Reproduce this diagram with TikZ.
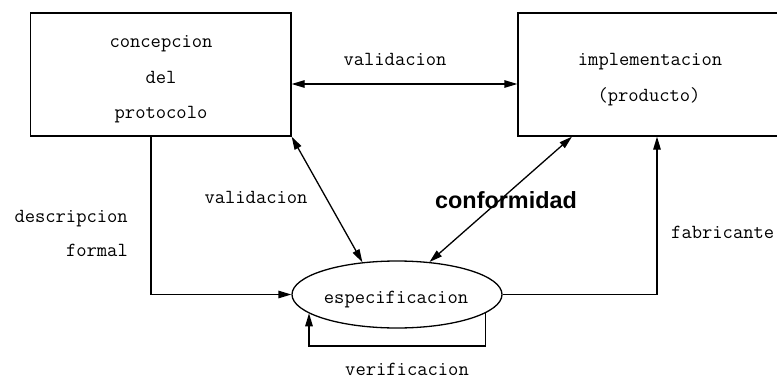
\documentclass[tikz,border=0pt]{standalone}
\usepackage{fontspec}
\newfontfamily\helvfam{Liberation Sans}
\usetikzlibrary{arrows.meta,shapes.geometric}

\tikzset{
  box/.style={draw, line width=1.3pt, rectangle, inner sep=0pt},
  oval/.style={draw, line width=1.3pt, ellipse, inner sep=0pt,
               minimum width=210pt, minimum height=67pt},
  lbl/.style={font=\ttfamily\fontsize{20}{24}\selectfont, anchor=base, inner sep=0pt},
  lblr/.style={lbl, anchor=base east},
  lbll/.style={lbl, anchor=base west},
  big/.style={font=\helvfam\bfseries\fontsize{23.4}{26}\selectfont, anchor=base, inner sep=0pt},
  conn/.style={line width=1.3pt, -{Triangle[length=13pt,width=7.5pt]}},
  bconn/.style={line width=1.3pt, {Triangle[length=13pt,width=7.5pt]}-{Triangle[length=13pt,width=7.5pt]}}
}

\begin{document}
\begin{tikzpicture}[x=1pt,y=-1pt]
  \useasboundingbox (0,0) rectangle (777,380);
  \clip (0,0) rectangle (777,380);

  % process boxes
  \node[box, minimum width=260.5pt, minimum height=123pt] (concep) at (160.75,74.5) {};
  \node[box, minimum width=272pt, minimum height=123pt] (impl) at (654,74.5) {};
  \node[lbl] (t1) at (161,47) {concepcion};
  \node[lbl] (t2) at (161,83) {del};
  \node[lbl] (t3) at (161,118) {protocolo};
  \node[lbl] (t4) at (650,65) {implementacion};
  \node[lbl] (t5) at (649,101) {(producto)};

  % specification ellipse
  \node[oval] (espec) at (397,294.5) {};
  \node[lbl] (t6) at (396,303) {especificacion};

  % helper coordinates for connector routes
  \coordinate (vy) at (0,84);
  \coordinate (dl) at (151,0);
  \coordinate (cx) at (572,0);
  \coordinate (fx) at (657,0);
  \coordinate (lb) at (309,346);

  % validation between concept and implementation
  \draw[bconn] (concep.east |- vy) -- (impl.west |- vy);
  % validation between concept and specification
  \draw[bconn] (concep.south east) -- (espec.137);
  % conformance between specification and implementation
  \draw[bconn] (espec.45) -- (impl.south -| cx);
  % formal description
  \draw[conn] (concep.south -| dl) |- (espec.west);
  % manufacturer
  \draw[conn] (espec.east) -| (impl.south -| fx);
  % verification loop
  \draw[conn] (espec.-12) |- (lb) -- (lb |- espec.-168);

  % connector labels
  \node[lbl] (l1) at (395,65) {validacion};
  \node[lbl] (l2) at (256,203) {validacion};
  \node[big] (l3) at (506,208) {conformidad};
  \node[lblr] (l4) at (128,222) {descripcion};
  \node[lblr] (l5) at (128,256) {formal};
  \node[lbll] (l6) at (671,238) {fabricante};
  \node[lbl] (l7) at (407,375) {verificacion};
\end{tikzpicture}
\end{document}
